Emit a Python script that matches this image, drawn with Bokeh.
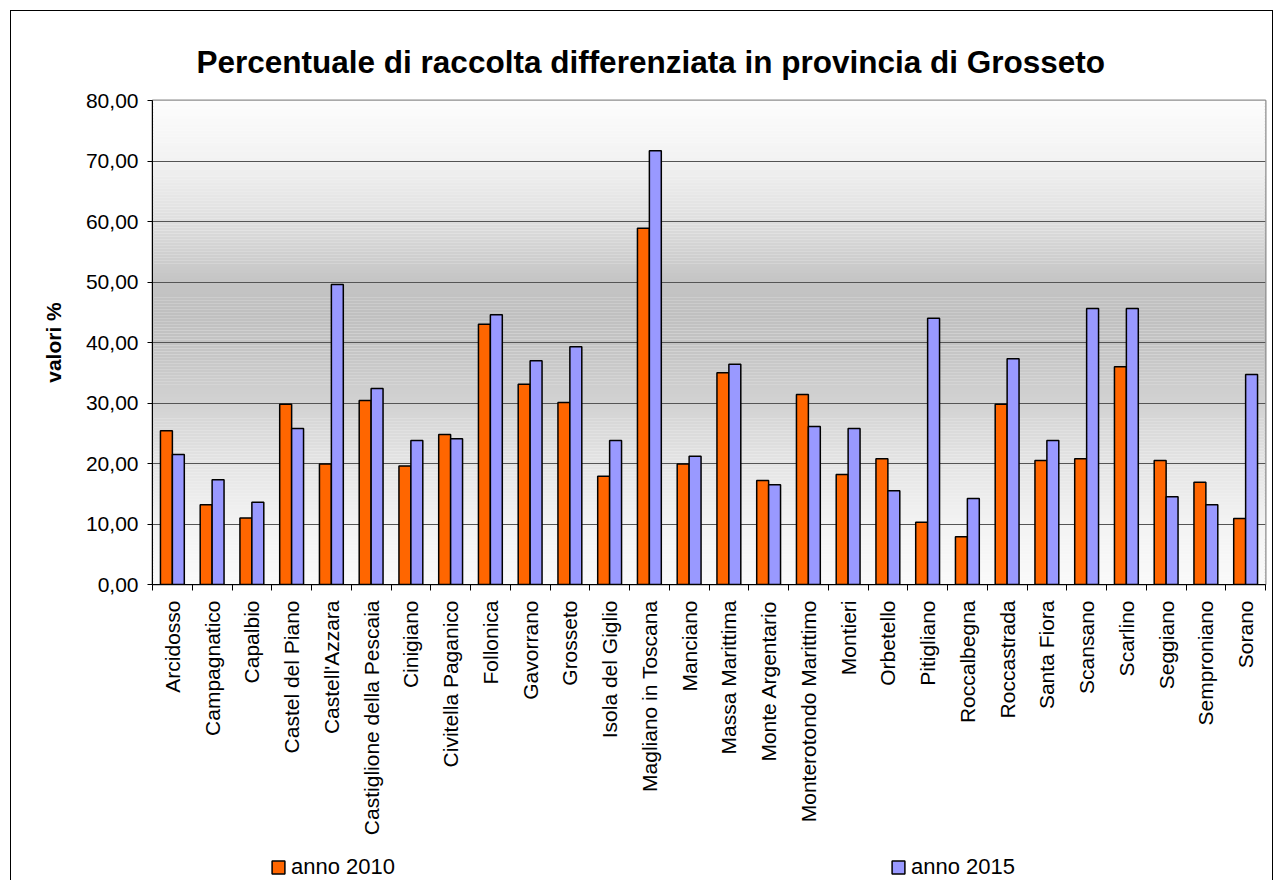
import math
import numpy as np
from bokeh.plotting import figure
from bokeh.layouts import column
from bokeh.models import (ColumnDataSource, Range1d, FixedTicker, BoxAnnotation,
                          Legend, LegendItem, InlineStyleSheet)
from bokeh.embed import file_html
from bokeh.resources import INLINE

# ---------------- data ----------------
comuni = ["Arcidosso", "Campagnatico", "Capalbio", "Castel del Piano", "Castell'Azzara",
          "Castiglione della Pescaia", "Cinigiano", "Civitella Paganico", "Follonica",
          "Gavorrano", "Grosseto", "Isola del Giglio", "Magliano in Toscana", "Manciano",
          "Massa Marittima", "Monte Argentario", "Monterotondo Marittimo", "Montieri",
          "Orbetello", "Pitigliano", "Roccalbegna", "Roccastrada", "Santa Fiora",
          "Scansano", "Scarlino", "Seggiano", "Semproniano", "Sorano"]
anno_2010 = [25.4, 13.2, 11.0, 29.8, 19.9, 30.4, 19.6, 24.8, 43.0, 33.1, 30.1, 17.9,
             58.9, 19.9, 35.0, 17.2, 31.4, 18.2, 20.8, 10.3, 7.9, 29.8, 20.5, 20.8,
             36.0, 20.5, 16.9, 10.9]
anno_2015 = [21.5, 17.3, 13.6, 25.8, 49.6, 32.4, 23.8, 24.1, 44.6, 37.0, 39.3, 23.8,
             71.7, 21.2, 36.4, 16.5, 26.1, 25.8, 15.5, 44.0, 14.2, 37.3, 23.8, 45.6,
             45.6, 14.5, 13.2, 34.7]
series_names = ["anno 2010", "anno 2015"]
series_colors = ["#ff6600", "#9999ff"]
y_ticks = [0, 10, 20, 30, 40, 50, 60, 70, 80]
y_tick_labels = ["0,00", "10,00", "20,00", "30,00", "40,00", "50,00", "60,00", "70,00", "80,00"]
titolo = "Percentuale di raccolta differenziata in provincia di Grosseto"
y_title = "valori %"

# ---------------- main figure ----------------
FONT = "Liberation Sans"
W = 1274
H_MAIN, H_LEG = 845, 35
n = len(comuni)
idx = np.arange(n)

p = figure(width=W, height=H_MAIN, output_backend="svg", toolbar_location=None,
           x_range=Range1d(-0.5, n - 0.5), y_range=Range1d(0, 80),
           min_border_left=152, min_border_right=9, min_border_top=100,
           min_border_bottom=H_MAIN - 584)
p.background_fill_color = "#fafafa"
p.border_fill_color = "white"
p.outline_line_color = "#8c8c8c"
p.outline_line_width = 2

# title
p.title.text = titolo
p.title.align = "left"
p.title.offset = 44
p.title.standoff = 42
p.title.text_font = FONT
p.title.text_font_style = "bold"
p.title.text_font_size = "31.5px"
p.title.text_color = "black"

# gradient background (decoration)
anchors_v = [0, 10, 20, 30, 40, 45, 50, 60, 70, 80]
anchors_g = [250, 243, 228, 210, 195, 192, 196, 222, 242, 253]
step = 0.5
for lo in np.arange(0, 80, step):
    g = int(round(np.interp(lo + step / 2, anchors_v, anchors_g)))
    col = "#%02x%02x%02x" % (g, g, g)
    p.add_layout(BoxAnnotation(bottom=lo, top=lo + step, fill_color=col, fill_alpha=1,
                               line_color=None, level="image"))

src = ColumnDataSource(dict(x1=idx - 0.15, x2=idx + 0.15, v1=anno_2010, v2=anno_2015))
p.vbar(x="x1", top="v1", width=0.3, bottom=0, source=src,
       fill_color=series_colors[0], line_color="black", line_width=1.5)
p.vbar(x="x2", top="v2", width=0.3, bottom=0, source=src,
       fill_color=series_colors[1], line_color="black", line_width=1.5)

# grid
p.xgrid.visible = False
p.ygrid.ticker = FixedTicker(ticks=y_ticks)
p.ygrid.grid_line_color = "#555555"
p.ygrid.grid_line_width = 1

# y axis
ya = p.yaxis[0]
ya.ticker = FixedTicker(ticks=y_ticks)
ya.major_label_overrides = dict(zip(y_ticks, y_tick_labels))
ya.major_label_text_font = FONT
ya.major_label_text_font_size = "21px"
ya.major_label_text_color = "black"
ya.major_tick_out = 5
ya.major_tick_in = 0
ya.minor_tick_out = 0
ya.minor_tick_in = 0
ya.major_label_standoff = 9
ya.axis_line_color = "black"
ya.major_tick_line_color = "black"
ya.axis_label = y_title
ya.axis_label_text_font = FONT
ya.axis_label_text_font_style = "bold"
ya.axis_label_text_font_size = "21px"
ya.axis_label_text_color = "black"
ya.axis_label_standoff = 18

# x axis
xa = p.xaxis[0]
xa.ticker = FixedTicker(ticks=list(range(n)), minor_ticks=[i - 0.5 for i in range(n + 1)])
xa.major_label_overrides = {i: c for i, c in enumerate(comuni)}
xa.major_label_orientation = math.pi / 2
xa.major_label_text_font = FONT
xa.major_label_text_font_size = "21px"
xa.major_label_text_color = "black"
xa.major_tick_out = 0
xa.major_tick_in = 0
xa.minor_tick_out = 6
xa.minor_tick_in = 0
xa.minor_tick_line_color = "black"
xa.major_label_standoff = 10
xa.axis_line_color = "black"

# ---------------- legend strip ----------------
pl = figure(width=W, height=H_LEG, output_backend="svg", toolbar_location=None,
            x_range=Range1d(-0.5, n - 0.5), y_range=Range1d(0, 80),
            x_axis_location=None, y_axis_location=None,
            min_border=0, min_border_left=0, min_border_right=0,
            min_border_top=0, min_border_bottom=0)
pl.grid.visible = False
pl.outline_line_color = None
pl.background_fill_color = "white"
pl.border_fill_color = "white"
leg_r = [pl.vbar(x=xc, top=vc, width=0.3, bottom=0, source=src, fill_color=c,
                 line_color="black", line_width=1.5, visible=False)
         for xc, vc, c in [("x1", "v1", series_colors[0]), ("x2", "v2", series_colors[1])]]
lg = Legend(items=[LegendItem(label=series_names[0], renderers=[leg_r[0]], index=0),
                   LegendItem(label=series_names[1], renderers=[leg_r[1]], index=0)],
            location=(118, 0), orientation="horizontal", padding=0, margin=0,
            spacing=495, glyph_width=16, glyph_height=16, label_standoff=5,
            label_text_font=FONT, label_text_font_size="22px", label_text_color="black",
            border_line_color=None, background_fill_alpha=0, click_policy="none")
pl.add_layout(lg, "center")

layout = column(p, pl, spacing=0)
layout.stylesheets = [InlineStyleSheet(css=""":host { position: relative; }
:host::after {
  content: ""; position: absolute; left: 10px; top: 10px; right: 1px; bottom: 0px;
  border: 1px solid black; border-bottom: none; pointer-events: none; z-index: 10;
}""")]

open("out.html", "w").write(file_html(layout, INLINE))
